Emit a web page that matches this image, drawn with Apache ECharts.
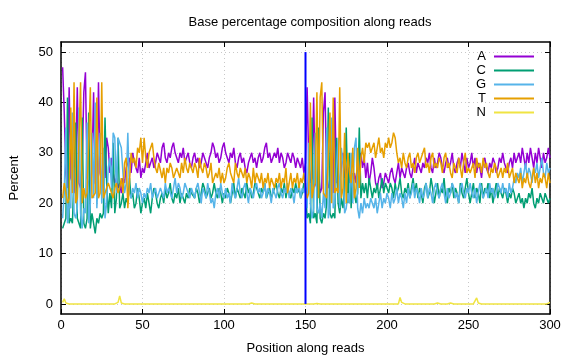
<!DOCTYPE html>
<html>
<head>
<meta charset="utf-8">
<script src="https://cdn.jsdelivr.net/npm/echarts@6/dist/echarts.min.js"></script>
<style>html,body{margin:0;padding:0;background:#fff}#c{width:576px;height:360px}</style>
</head>
<body>
<div id="c"></div>
<script>
var titleText = 'Base percentage composition along reads';
var xName = 'Position along reads';
var yName = 'Percent';
var seriesNames = ['A', 'C', 'G', 'T', 'N'];
var xTicks = [0, 50, 100, 150, 200, 250, 300];
var yTicks = [0, 10, 20, 30, 40, 50];
var readBoundary = 150;

var valuesA = [
47,38,26,23,43,25,24,22,27,43,
24,23,28,42,46,25,24,22,27,42,
24,23,44,26,24,30,25,33,31,26,
29,26,24,25,23,24,22,25,24,27,
28,29,26,30,28,27,26,29,25,27,
26,28,30,27,28,29,27,28,30,29,
28,31,32,29,28,30,29,31,32,30,
29,28,30,29,31,28,29,30,28,27,
29,30,28,29,27,28,30,29,28,27,
29,30,32,31,29,30,28,29,31,32,
30,29,28,30,29,31,28,27,29,30,
28,29,27,26,28,29,30,28,29,27,
29,30,28,29,31,32,29,30,28,29,
30,29,31,28,30,29,27,28,30,29,
28,30,29,27,29,28,27,29,26,28,
43,28,24,25,41,24,23,26,22,23,
38,42,24,23,25,26,22,41,24,25,
24,27,30,25,26,28,24,27,23,26,
24,28,25,30,27,29,25,28,24,26,
29,27,24,23,25,26,23,24,26,25,
24,26,27,25,24,26,28,25,27,26,
25,27,28,26,25,27,29,26,28,27,
26,28,27,29,28,30,27,26,29,27,
28,30,29,27,26,28,29,27,28,30,
27,26,28,29,27,30,28,26,29,27,
28,30,27,29,26,28,27,25,28,29,
27,26,28,27,29,28,26,27,29,28,
30,28,27,26,28,29,27,30,28,29,
30,28,31,29,27,30,28,31,29,27,
30,28,31,29,27,30,28,29,31,29
];
var valuesC = [
15,16,17,41,16,17,16,16,36,17,
16,15,37,16,15,17,38,15,18,16,
14,17,16,18,17,18,37,24,18,22,
19,32,18,21,33,19,20,22,19,21,
20,25,21,22,19,20,23,21,18,20,
21,19,22,20,18,21,23,22,20,19,
21,22,20,23,21,22,24,21,20,22,
21,23,20,22,21,20,22,21,23,22,
22,21,23,22,20,22,24,23,21,22,
23,21,22,24,22,21,23,22,20,22,
21,23,22,20,22,24,21,23,22,21,
23,22,21,24,22,23,21,22,24,23,
22,21,23,22,24,21,22,23,21,22,
23,24,22,21,23,22,24,21,23,22,
21,23,22,24,22,23,21,22,24,23,
17,18,16,37,17,18,16,35,17,16,
18,17,20,39,18,17,18,17,33,20,
18,21,19,23,35,20,30,19,26,22,
20,22,35,21,24,22,24,21,25,23,
21,23,22,24,21,23,25,22,24,23,
22,24,23,21,24,22,23,25,22,21,
23,22,24,21,23,25,22,24,21,23,
22,20,23,24,21,22,25,23,20,22,
24,21,23,22,25,21,20,23,22,24,
21,23,22,20,24,22,21,23,25,22,
20,22,24,21,23,22,20,24,21,23,
22,24,21,23,20,22,24,21,23,22,
21,23,22,20,22,21,23,22,20,21,
22,20,21,19,21,20,22,21,23,20,
19,21,20,22,21,20,22,21,20,21
];
var valuesG = [
17,22,35,16,20,19,38,18,17,19,
39,18,15,19,18,36,16,20,34,21,
40,19,19,34,20,31,17,20,27,29,
23,34,33,22,33,32,31,26,22,24,
34,22,21,23,22,24,21,23,22,20,
22,21,23,22,24,21,22,23,21,22,
23,22,21,24,22,23,22,21,23,25,
22,24,23,21,22,24,23,22,21,23,
22,21,23,24,22,20,23,22,21,24,
22,20,21,19,22,23,21,24,22,21,
23,21,22,20,24,22,21,23,25,22,
21,23,24,22,20,23,22,21,23,24,
22,23,21,22,24,21,23,22,20,23,
22,21,23,24,22,21,23,22,24,21,
23,22,20,23,22,24,21,23,22,24,
19,32,20,17,19,34,19,18,20,17,
22,19,35,17,19,37,19,20,20,33,
19,31,28,18,19,22,20,30,20,31,
33,19,17,20,18,21,19,20,19,21,
20,19,21,18,20,22,19,21,20,22,
21,19,22,20,21,23,20,22,21,19,
22,20,23,21,22,24,21,23,22,20,
23,21,22,24,21,23,22,20,23,24,
22,21,23,24,22,20,23,21,22,24,
23,21,22,20,23,24,22,21,23,22,
24,22,21,23,20,22,24,23,21,22,
23,21,24,22,23,21,22,24,23,22,
24,22,23,21,24,22,23,25,24,26,
25,27,24,26,28,25,27,26,24,27,
26,28,25,27,29,26,25,28,26,27
];
var valuesT = [
21,24,22,20,21,39,22,44,20,21,
21,44,20,23,21,22,22,43,21,21,
22,41,21,22,44,21,21,23,24,23,
22,21,23,24,22,23,25,22,28,29,
19,24,30,28,29,27,31,30,33,28,
33,29,27,30,31,32,29,27,26,28,
28,25,27,24,27,26,28,27,25,26,
27,26,25,28,26,29,27,26,28,27,
26,28,27,25,29,27,26,28,27,25,
26,28,24,25,26,25,27,24,26,24,
25,27,28,26,25,24,28,26,25,27,
26,25,27,24,26,25,23,27,24,26,
25,24,26,23,25,24,26,23,25,24,
23,25,24,26,23,25,24,27,22,24,
26,23,25,24,26,23,25,24,26,23,
21,22,40,21,23,24,42,21,41,44,
22,22,21,21,38,20,41,22,23,22,
43,21,23,34,20,30,26,24,31,21,
23,31,23,29,31,28,32,31,32,30,
30,32,29,31,33,30,31,29,32,31,
33,31,32,34,33,30,28,29,27,30,
28,27,29,30,27,28,26,29,30,28,
29,30,31,27,28,26,29,30,27,28,
27,29,28,26,29,30,27,28,26,25,
28,27,26,29,27,25,28,30,26,27,
26,27,28,25,29,27,28,26,29,27,
28,26,25,27,26,28,27,25,26,27,
25,27,26,28,25,26,27,24,26,25,
24,26,23,25,24,26,24,23,25,27,
24,26,23,25,24,26,25,23,26,24
];
var valuesN = [
0.3,1.0,0.2,0,0,0,0,0,0,0,
0,0,0,0,0,0,0,0,0,0,
0,0,0,0,0,0,0,0,0,0,
0,0,0,0,0.3,1.6,0.2,0,0,0,
0,0,0,0,0,0,0,0,0,0,
0,0,0,0,0,0,0,0,0,0,
0,0,0,0,0,0,0,0,0,0,
0,0,0,0,0,0,0,0,0,0,
0,0,0,0,0,0,0,0,0,0,
0,0,0,0,0,0,0,0,0,0,
0,0,0,0,0,0,0,0,0,0,
0,0,0,0,0,0,0.2,0,0,0,
0,0,0,0,0,0,0,0,0,0,
0,0,0,0,0,0,0,0.2,0,0,
0,0,0,0,0,0,0,0,0,0,
0,0.2,0,0,0,0.2,0.1,0,0,0.2,
0,0.2,0,0.2,0,0,0,0,0,0,
0,0,0,0,0,0,0,0,0,0.1,
0,0,0,0,0,0,0,0,0,0,
0,0,0,0,0,0,0,0,0,0,
0,0,0,0,0,0,0,1.3,0.3,0,
0,0,0,0,0,0,0,0.2,0,0,
0,0,0,0,0,0,0,0,0,0,
0.2,0,0,0,0,0,0,0,0.2,0,
0,0,0,0,0,0,0,0,0,0,
0,0,0,0,1.2,0.2,0,0,0,0,
0,0,0,0,0,0,0,0,0,0,
0,0,0,0,0,0,0,0,0,0,
0,0,0,0,0,0,0,0,0,0,
0,0,0,0,0,0,0,0,0.2,0.3
];
var colors = ['#9400d3', '#009e73', '#56b4e9', '#e69f00', '#f0e442'];
var boundaryColor = '#0000ff';

var allValues = [valuesA, valuesC, valuesG, valuesT, valuesN];
function toPoints(arr) {
  return arr.map(function (v, i) { return [i + 1, v]; });
}

var font = 'Liberation Sans, Arial, sans-serif';
var gridLine = { show: true, lineStyle: { color: '#c8c8c8', type: [1, 3], width: 1 } };
var border = { show: true, onZero: false, lineStyle: { color: '#000', width: 1.5 } };
var tick = { show: true, inside: true, length: 5, lineStyle: { color: '#000', width: 1 } };

var series = allValues.map(function (arr, k) {
  return {
    name: seriesNames[k], type: 'line', data: toPoints(arr), symbol: 'none',
    lineStyle: { color: colors[k], width: 1.5 }, itemStyle: { color: colors[k] },
    xAxisIndex: 0, yAxisIndex: 0, z: 2 + k
  };
});
series.push({
  name: 'boundary', type: 'line', symbol: 'none', z: 10,
  data: [[readBoundary, yTicks[0]], [readBoundary, yTicks[yTicks.length - 1]]],
  lineStyle: { color: boundaryColor, width: 2 }, silent: true
});

var chart = echarts.init(document.getElementById('c'), null, { renderer: 'canvas' });
chart.setOption({
  animation: false,
  backgroundColor: '#fff',
  title: { text: titleText, left: 305, textAlign: 'center', top: 11,
    textStyle: { fontFamily: font, fontSize: 13, fontWeight: 'normal', color: '#000' } },
  legend: {
    data: seriesNames, orient: 'vertical', align: 'right', right: 37, top: 45,
    itemWidth: 40, itemHeight: 14, itemGap: 1, icon: 'path://M0,6L40,6L40,8L0,8Z',
    textStyle: { fontFamily: font, fontSize: 13, color: '#000', padding: [0, 3, 0, 0] }
  },
  grid: { left: 60, right: 26, top: 42, bottom: 45, containLabel: false },
  xAxis: [
    { type: 'value', min: 0, max: 300, interval: 50, position: 'bottom',
      name: xName, nameLocation: 'middle', nameGap: 28,
      nameTextStyle: { fontFamily: font, fontSize: 13, color: '#000' },
      axisLine: border, axisTick: tick,
      axisLabel: { fontFamily: font, fontSize: 13, color: '#000', margin: 5 },
      splitLine: gridLine },
    { type: 'value', min: 0, max: 300, interval: 50, position: 'top',
      axisLine: border, axisTick: tick,
      axisLabel: { show: false }, splitLine: { show: false } }
  ],
  yAxis: [
    { type: 'value', min: -2, max: 52, position: 'left',
      name: yName, nameLocation: 'middle', nameGap: 40,
      nameTextStyle: { fontFamily: font, fontSize: 13, color: '#000' },
      axisLine: border,
      axisTick: Object.assign({ customValues: yTicks }, tick),
      axisLabel: { fontFamily: font, fontSize: 13, color: '#000', margin: 8, customValues: yTicks },
      splitLine: gridLine },
    { type: 'value', min: -2, max: 52, position: 'right',
      axisLine: border,
      axisTick: Object.assign({ customValues: yTicks }, tick),
      axisLabel: { show: false, customValues: yTicks }, splitLine: { show: false } }
  ],
  series: series
});
</script>
</body>
</html>
